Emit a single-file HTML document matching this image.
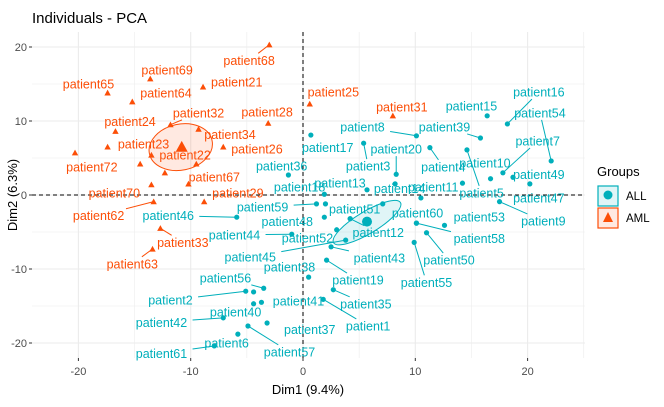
<!DOCTYPE html>
<html><head><meta charset="utf-8"><style>
body{margin:0;background:#fff;}
svg{font-family:"Liberation Sans",sans-serif;display:block}
</style></head><body>
<svg id="c" width="664" height="407"></svg>
<script>
const allNames=["patient16","patient54","patient15","patient8","patient39","patient17","patient3","patient20","patient4","patient7","patient10","patient49","patient11","patient5","patient47","patient9","patient13","patient18","patient14","patient60","patient51","","patient12","patient53","","patient58","patient50","patient55","patient43","patient45","patient19","patient38","patient35","patient1","patient36","patient59","","patient48","patient44","patient52","patient56","patient2","patient40","","patient42","patient37","patient6","patient57","patient61","patient46","patient41"];
const allX=[18.2,22.1,16.4,10.1,15.8,0.7,5.4,8.3,11.3,17.8,16.7,18.7,14.2,14.6,20.2,17.5,5.7,1.9,8.2,10.5,7.1,4.2,4.2,12.6,10.1,10.1,11.0,9.9,2.5,3.8,2.1,0.5,2.7,1.8,-1.3,1.2,2.0,1.9,-1.0,3.0,-3.5,-5.1,-4.4,-4.4,-7.1,-3.2,-5.8,-4.9,-7.9,-5.9,-3.7];
const allY=[9.6,4.6,10.7,8.0,7.7,8.1,7.0,2.8,6.4,3.0,2.2,2.4,1.6,6.1,1.5,-0.9,0.7,0.1,1.5,-0.4,-1.2,-3.2,-3.2,-4.1,-3.8,-3.8,-5.1,-6.4,-7.0,-6.1,-8.8,-11.1,-12.8,-14.1,2.7,-1.2,-1.2,-3.0,-5.3,-4.7,-12.6,-13.0,-14.7,-13.1,-16.6,-17.3,-18.8,-17.7,-20.4,-3.0,-14.5];
const allLX=[21.0,21.1,15.0,5.3,12.6,2.2,5.8,8.3,12.5,20.9,16.2,21.0,11.6,15.9,21.0,21.4,3.3,-0.3,8.6,10.2,4.6,0,6.7,15.7,0,15.7,13.0,11.0,6.8,-4.7,4.9,-1.2,5.6,5.8,-1.9,-3.6,0,-1.4,-6.1,0.4,-6.9,-11.8,-6.0,0,-12.6,0.6,-6.8,-1.2,-12.6,-12.0,-0.4];
const allLY=[13.9,11.1,12.0,9.2,9.2,6.4,3.9,6.2,3.8,7.3,4.3,2.8,1.1,0.3,-0.4,-3.5,1.6,1.1,0.9,-2.4,-1.9,0,-5.1,-3.0,0,-5.9,-8.8,-11.8,-8.5,-8.4,-11.5,-9.7,-14.7,-17.7,3.9,-1.6,0,-3.6,-5.4,-5.8,-11.2,-14.2,-15.8,0,-17.2,-18.2,-20.0,-21.2,-21.4,-2.8,-14.3];
const amlNames=["patient68","patient69","patient65","patient21","patient64","patient32","patient28","patient24","patient34","patient23","patient22","patient26","patient72","patient67","patient70","patient29","patient62","patient33","patient63","patient25","patient31","","",""];
const amlX=[-3.0,-13.6,-17.4,-8.9,-15.2,-11.8,-3.1,-16.7,-9.3,-17.4,-13.5,-7.1,-20.3,-9.5,-13.5,-8.8,-13.3,-12.7,-13.4,0.6,8.0,-12.3,-14.5,-10.2];
const amlY=[20.3,15.7,13.8,14.6,12.6,9.5,9.7,8.6,8.9,6.5,5.4,6.5,5.7,4.2,1.4,-0.9,-0.9,-4.5,-7.3,12.3,10.7,3.0,4.2,1.5];
const amlLX=[-4.8,-12.1,-19.1,-5.9,-12.2,-9.3,-3.2,-15.4,-6.5,-14.2,-10.5,-4.1,-18.8,-7.9,-16.8,-5.8,-18.2,-10.7,-15.2,2.7,8.8,0,0,0];
const amlLY=[18.2,16.9,15.0,15.3,13.8,11.1,11.2,9.9,8.2,6.9,5.4,6.2,3.8,2.4,0.3,0.3,-2.8,-6.4,-9.3,13.9,11.9,0,0,0];
const centroidX=[5.7,-10.8];
const centroidY=[-3.6,6.5];
const xTicks=[-20,-10,0,10,20];
const yTicks=[-20,-10,0,10,20];

const NS="http://www.w3.org/2000/svg";
const svg=document.getElementById('c');
const X=v=>303+v*11.23, Y=v=>195-v*7.4;
const L=32,R=585,T=32,B=358;
const CA="#00AFBB",CM="#FC4E07";
function mk(t,a,p){const e=document.createElementNS(NS,t);for(const k in a)e.setAttribute(k,a[k]);(p||svg).appendChild(e);return e;}

let e;
e=mk('text',{x:32,y:23,'font-size':15,fill:'#000'});e.textContent='Individuals - PCA';


for(let v=-25;v<=25;v+=5){const px=X(v);if(px<L||px>R)continue;
 e=mk('line',{x1:px,x2:px,y1:T,y2:B,stroke:'#ebebeb','stroke-width':v%10===0?1.1:0.55});
 
 }
for(let v=-25;v<=25;v+=5){const py=Y(v);if(py<T||py>B)continue;
 e=mk('line',{x1:L,x2:R,y1:py,y2:py,stroke:'#ebebeb','stroke-width':v%10===0?1.1:0.55});
 
 }
xTicks.forEach(v=>{
 e=mk('line',{x1:X(v),x2:X(v),y1:B,y2:B+3,stroke:'#333'});
 
 
 e=mk('text',{x:X(v),y:B+17,'font-size':11,fill:'#4d4d4d','text-anchor':'middle'});e.textContent=v;
 
 });
yTicks.forEach(v=>{
 e=mk('line',{x1:L-3,x2:L,y1:Y(v),y2:Y(v),stroke:'#333'});
 
 
 e=mk('text',{x:L-5,y:Y(v)+4,'font-size':11,fill:'#4d4d4d','text-anchor':'end'});e.textContent=v;
 
 });
e=mk('line',{x1:X(0),x2:X(0),y1:T,y2:B,stroke:'#000','stroke-dasharray':'4,3'});


e=mk('line',{x1:L,x2:R,y1:Y(0),y2:Y(0),stroke:'#000','stroke-dasharray':'4,3'});


e=mk('ellipse',{cx:X(centroidX[0]),cy:Y(centroidY[0])+1,rx:39,ry:11,fill:CA,'fill-opacity':0.12,stroke:CA,transform:`rotate(-31 ${X(centroidX[0])} ${Y(centroidY[0])+1})`});


e=mk('ellipse',{cx:X(centroidX[1])-1,cy:Y(centroidY[1]),rx:32,ry:23,fill:CM,'fill-opacity':0.12,stroke:CM,transform:`rotate(-12 ${X(centroidX[1])} ${Y(centroidY[1])})`});



function tri(cx,cy,s,c){return mk('polygon',{points:`${cx},${cy-s} ${cx-s},${cy+s*0.8} ${cx+s},${cy+s*0.8}`,fill:c});}
function series(names,xs,ys,lx,ly,col,shape){
 for(let i=0;i<xs.length;i++){
  const px=X(xs[i]),py=Y(ys[i]);
  if(names[i]){
   const tx=X(lx[i]),ty=Y(ly[i]);const hw=names[i].length*3.45,hh=7;
   let dx=px-tx,dy=py-ty;let t=1;
   if(Math.abs(dx)>hw||Math.abs(dy)>hh){
    t=Math.min(dx?hw/Math.abs(dx):1e9,dy?hh/Math.abs(dy):1e9);
    const ex=tx+dx*t,ey=ty+dy*t;const len=Math.hypot(px-ex,py-ey);
    if(len>12){e=mk('line',{x1:px,y1:py,x2:ex,y2:ey,stroke:col,'stroke-width':1});
     
     }
   }
   e=mk('text',{x:tx,y:ty+4.5,'font-size':12.5,fill:col,'text-anchor':'middle'});e.textContent=names[i];
   
   
  }
  e=shape==='c'?mk('circle',{cx:px,cy:py,r:2.6,fill:col}):tri(px,py,3.2,col);
  
  
 }
}
series(allNames,allX,allY,allLX,allLY,CA,'c');
series(amlNames,amlX,amlY,amlLX,amlLY,CM,'t');
e=mk('circle',{cx:X(centroidX[0]),cy:Y(centroidY[0]),r:5,fill:CA});


e=tri(X(centroidX[1]),Y(centroidY[1]),6,CM);



e=mk('text',{x:308,y:394,'font-size':13,fill:'#000','text-anchor':'middle'});e.textContent='Dim1 (9.4%)';


e=mk('text',{x:0,y:0,'font-size':13,fill:'#000','text-anchor':'middle',transform:'translate(17,195) rotate(-90)'});e.textContent='Dim2 (6.3%)';


e=mk('text',{x:597,y:176,'font-size':13,fill:'#000'});e.textContent='Groups';


const lg=[['ALL',CA,186],['AML',CM,208]];
lg.forEach(([n,c,y])=>{
 const g=mk('g',{});
 
 
 mk('rect',{x:598,y:y,width:20,height:20,fill:c,'fill-opacity':0.12,stroke:c,'stroke-width':1.2},g);
 if(n==='ALL')mk('circle',{cx:608,cy:y+9,r:4.5,fill:c},g);else mk('polygon',{points:`608,${y+4} 603,${y+14} 613,${y+14}`,fill:c},g);
 const t=mk('text',{x:626,y:y+14,'font-size':11.5,fill:'#000'},g);t.textContent=n;
});
</script>
</body></html>
